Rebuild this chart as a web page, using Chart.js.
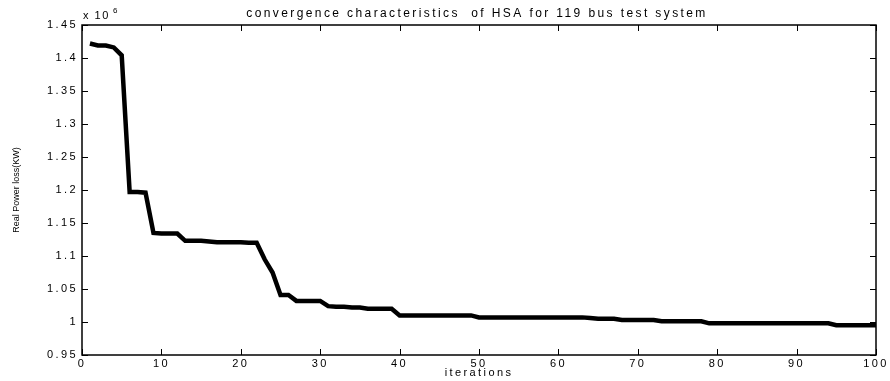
<!DOCTYPE html>
<html>
<head>
<meta charset="utf-8">
<script src="https://cdn.jsdelivr.net/npm/chart.js@4/dist/chart.umd.min.js"></script>
<style>
    html, body { margin: 0; padding: 0; background: #fff; }
    canvas { display: block; }
</style>
</head>
<body>
<canvas id="chartHSA" width="890" height="381"></canvas>
<script>
// data (loss in units of 10^6)
const iterations = Array.from({ length: 100 }, (_, i) => i + 1);
const powerLoss = [
    1.422, 1.419, 1.419, 1.416, 1.404, 1.197, 1.197, 1.196, 1.135, 1.134,
    1.134, 1.134, 1.123, 1.123, 1.123, 1.122, 1.121, 1.121, 1.121, 1.121,
    1.120, 1.120, 1.095, 1.075, 1.041, 1.041, 1.032, 1.032, 1.032, 1.032,
    1.024, 1.023, 1.023, 1.022, 1.022, 1.020, 1.020, 1.020, 1.020, 1.010,
    1.010, 1.010, 1.010, 1.010, 1.010, 1.010, 1.010, 1.010, 1.010, 1.007,
    1.007, 1.007, 1.007, 1.007, 1.007, 1.007, 1.007, 1.007, 1.007, 1.007,
    1.007, 1.007, 1.007, 1.006, 1.005, 1.005, 1.005, 1.003, 1.003, 1.003,
    1.003, 1.003, 1.001, 1.001, 1.001, 1.001, 1.001, 1.001, 0.998, 0.998,
    0.998, 0.998, 0.998, 0.998, 0.998, 0.998, 0.998, 0.998, 0.998, 0.998,
    0.998, 0.998, 0.998, 0.998, 0.995, 0.995, 0.995, 0.995, 0.995, 0.995
];
const xTicks = [0, 10, 20, 30, 40, 50, 60, 70, 80, 90, 100];
const yTicks = [0.95, 1, 1.05, 1.1, 1.15, 1.2, 1.25, 1.3, 1.35, 1.4, 1.45];

const chartTitle = "convergence characteristics  of HSA for 119 bus test system";
const xLabel = "iterations";
const yLabel = "Real Power loss(KW)";

const FONT = "'Liberation Sans', Arial, Helvetica, sans-serif";

// matlab-style frame: top/right border, inward ticks, title, exponent
const matlabFrame = {
    id: "matlabFrame",
    beforeDraw(chart) {
        // matlab prints its labels quite wide
        chart.ctx.letterSpacing = "2.4px";
    },
    afterDraw(chart) {
        const ctx = chart.ctx;
        const a = chart.chartArea;
        const sx = chart.scales.x;
        const sy = chart.scales.y;
        const tick = 6;

        ctx.save();
        ctx.strokeStyle = "#000";
        ctx.lineWidth = 1.5;
        ctx.strokeRect(a.left, a.top, a.right - a.left, a.bottom - a.top);

        ctx.lineWidth = 1;
        ctx.beginPath();
        xTicks.forEach(v => {
            const px = Math.round(sx.getPixelForValue(v)) + 0.5;
            ctx.moveTo(px, a.bottom); ctx.lineTo(px, a.bottom - tick);
            ctx.moveTo(px, a.top);    ctx.lineTo(px, a.top + tick);
        });
        yTicks.forEach(v => {
            const py = Math.round(sy.getPixelForValue(v)) + 0.5;
            ctx.moveTo(a.left, py);  ctx.lineTo(a.left + tick, py);
            ctx.moveTo(a.right, py); ctx.lineTo(a.right - tick, py);
        });
        ctx.stroke();

        ctx.fillStyle = "#000";
        ctx.letterSpacing = "2.4px";
        ctx.font = "12px " + FONT;
        ctx.textAlign = "center";
        ctx.textBaseline = "middle";
        ctx.fillText(chartTitle, (a.left + a.right) / 2 - 2, 14);

        // x 10^6
        ctx.textAlign = "left";
        ctx.letterSpacing = "1.5px";
        ctx.font = "11px " + FONT;
        ctx.fillText("x 10", a.left + 1, 16);
        ctx.font = "8px " + FONT;
        ctx.fillText("6", a.left + 31, 11);

        // y label, small and rotated
        ctx.letterSpacing = "0px";
        ctx.font = "9px " + FONT;
        ctx.translate(17, (a.top + a.bottom) / 2);
        ctx.rotate(-Math.PI / 2);
        ctx.textAlign = "center";
        ctx.fillText(yLabel, 0, 0);
        ctx.restore();
    }
};

new Chart(document.getElementById("chartHSA"), {
    type: "line",
    data: {
        datasets: [{
            data: iterations.map((it, i) => ({ x: it, y: powerLoss[i] })),
            borderColor: "#000",
            borderWidth: 4.5,
            pointRadius: 0,
            tension: 0,
            fill: false
        }]
    },
    options: {
        responsive: false,
        animation: false,
        devicePixelRatio: 1,
        layout: { padding: { top: 25, right: 14, left: 0, bottom: 0 } },
        plugins: {
            legend: { display: false },
            tooltip: { enabled: false }
        },
        scales: {
            x: {
                type: "linear",
                min: 0,
                max: 100,
                afterBuildTicks: s => { s.ticks = xTicks.map(v => ({ value: v })); },
                afterFit: s => { s.height = 26; },
                ticks: {
                    color: "#000",
                    padding: 2,
                    maxRotation: 0,
                    font: { family: FONT, size: 11 }
                },
                grid: { drawOnChartArea: false, drawTicks: false },
                border: { display: false },
                title: {
                    display: true,
                    text: xLabel,
                    color: "#000",
                    padding: { top: 0, bottom: 1 },
                    font: { family: FONT, size: 11 }
                }
            },
            y: {
                min: 0.95,
                max: 1.45,
                afterBuildTicks: s => { s.ticks = yTicks.map(v => ({ value: v })); },
                afterFit: s => { s.width = 82; },
                ticks: {
                    color: "#000",
                    padding: 4,
                    font: { family: FONT, size: 11 },
                    callback: v => String(Math.round(v * 100) / 100)
                },
                grid: { drawOnChartArea: false, drawTicks: false },
                border: { display: false }
            }
        }
    },
    plugins: [matlabFrame]
});
</script>
</body>
</html>
